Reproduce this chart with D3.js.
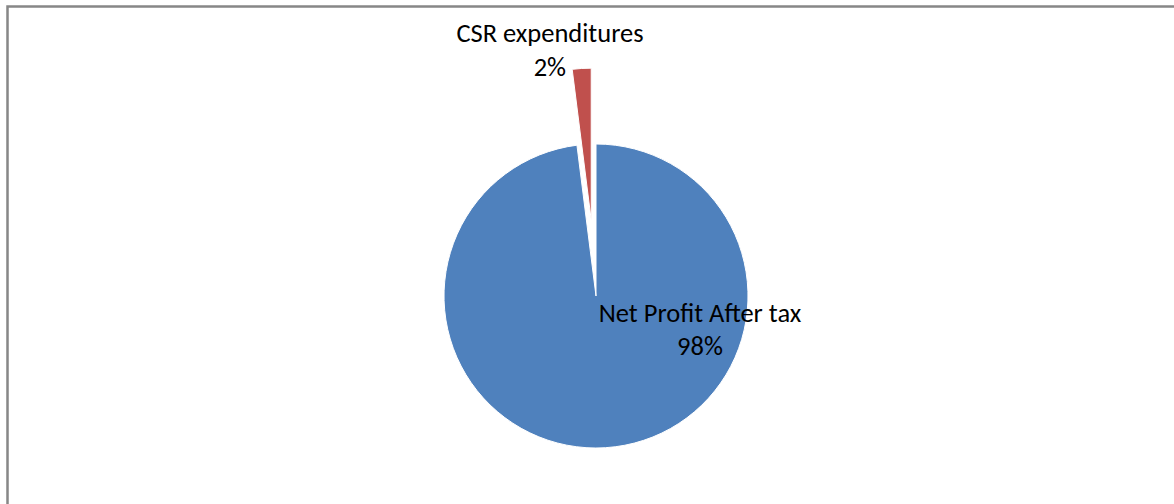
<!DOCTYPE html>
<html>
<head>
<meta charset="utf-8">
<script src="https://cdn.jsdelivr.net/npm/d3@7"></script>
<style>
  html, body { margin: 0; padding: 0; background: #fff; }
  svg { display: block; }
</style>
</head>
<body>
<svg id="chart"></svg>
<script>
const width = 1174;
const height = 504;

// --- Data ---
const categories = ["Net Profit After tax", "CSR expenditures"];
const values = [98, 2];
const percentLabels = ["98%", "2%"];
const colors = ["#4F81BD", "#C0504D"];
const explode = [0, 76]; // px pulled out from centre

const svg = d3.select("#chart")
  .attr("width", width)
  .attr("height", height)
  .attr("viewBox", [0, 0, width, height]);

// chart area border (right/bottom edges fall outside the window)
svg.append("rect")
  .attr("x", 7.5)
  .attr("y", 6.5)
  .attr("width", width + 20)
  .attr("height", height + 20)
  .attr("fill", "none")
  .attr("stroke", "#878787")
  .attr("stroke-width", 2.5);

const cx = 596, cy = 296, radius = 152;

const pie = d3.pie().sort(null).value(d => d.value);
const arc = d3.arc().innerRadius(0).outerRadius(radius);

const data = categories.map((c, i) => ({ name: c, value: values[i], pct: percentLabels[i], color: colors[i], off: explode[i] }));
const arcs = pie(data);

const g = svg.append("g").attr("transform", `translate(${cx},${cy})`);

g.selectAll("path")
  .data(arcs)
  .join("path")
  .attr("transform", d => {
    const a = (d.startAngle + d.endAngle) / 2;
    return `translate(${Math.sin(a) * d.data.off},${-Math.cos(a) * d.data.off})`;
  })
  .attr("d", arc)
  .attr("fill", d => d.data.color)
  .attr("stroke", "#fff")
  .attr("stroke-width", 1);

// --- Labels ---
const font = "Carlito, Lato, 'Liberation Sans', sans-serif";
const labelPos = [
  { x: 700, y: 322, anchor: "middle" },
  { x: 550, y: 42, anchor: "middle" }
];

const labels = svg.append("g")
  .attr("font-family", font)
  .attr("font-size", 26.5)
  .attr("fill", "#000");

data.forEach((d, i) => {
  const p = labelPos[i];
  const t = labels.append("text")
    .attr("x", p.x)
    .attr("y", p.y)
    .attr("text-anchor", p.anchor);
  t.append("tspan").attr("x", p.x).text(d.name);
  if (i === 0) {
    t.append("tspan").attr("x", p.x).attr("dy", 33).text(d.pct);
  } else {
    t.append("tspan").attr("x", 566).attr("dy", 34).attr("text-anchor", "end").text(d.pct);
  }
});
</script>
</body>
</html>
